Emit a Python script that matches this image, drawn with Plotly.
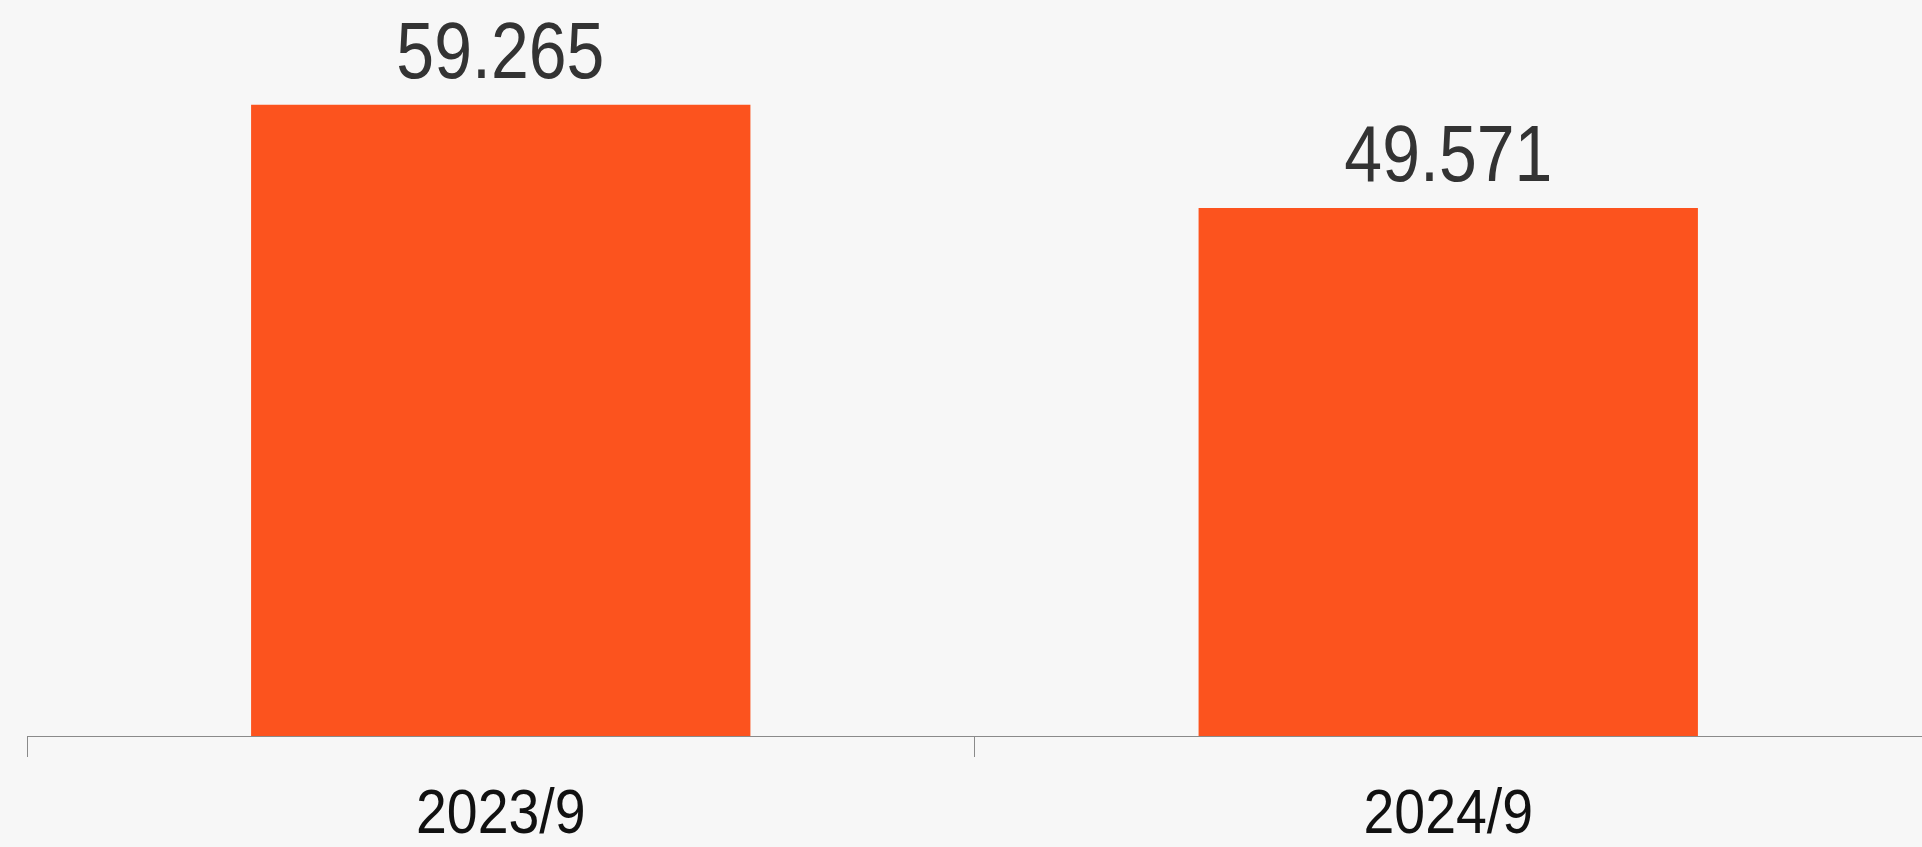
import plotly.graph_objects as go

categories = ["2023/9", "2024/9"]
values = [59.265, 49.571]
value_labels = ["59.265", "49.571"]

BAR_COLOR = "#FC531E"
BG = "#f7f7f7"
FONT = "Liberation Sans, Arial, sans-serif"

fig = go.Figure()
fig.add_trace(go.Bar(
    x=categories,
    y=values,
    marker=dict(color=BAR_COLOR, line=dict(width=0)),
    hoverinfo="skip",
))

for c, v, t in zip(categories, values, value_labels):
    fig.add_annotation(
        x=c, y=v, text=t, showarrow=False,
        xanchor="center", yanchor="bottom", yshift=8,
        font=dict(family=FONT, size=80, color="#333333"),
    )

fig.update_layout(
    width=1922, height=847,
    margin=dict(l=27, r=0, t=0, b=111),
    paper_bgcolor=BG, plot_bgcolor=BG,
    bargap=0.473,
    showlegend=False,
    xaxis=dict(
        type="category",
        range=[-0.5, 1.5],
        automargin=False,
        showline=True, linecolor="#8a8a8a", linewidth=1,
        ticks="outside", tickson="boundaries", ticklen=20, tickcolor="#8a8a8a", tickwidth=1,
        showgrid=False, zeroline=False,
        tickfont=dict(family=FONT, size=63, color="#111111"),
        ticklabelstandoff=20,
    ),
    yaxis=dict(
        range=[0, 69.1],
        automargin=False,
        visible=False, showgrid=False, zeroline=False,
    ),
)

# the reference uses a narrow face: condense the texts horizontally
post = """
document.body.style.margin='0';
document.body.style.background='#f7f7f7';
function squeeze(sel, k){
  document.querySelectorAll(sel).forEach(function(t){
    var w = t.getComputedTextLength();
    t.setAttribute('lengthAdjust','spacingAndGlyphs');
    t.setAttribute('textLength', (w*k).toFixed(1));
  });
}
squeeze('.xtick text', 0.88);
squeeze('.annotation-text', 0.85);
"""

fig.write_html("out.html", post_script=post, config={"displayModeBar": False})
